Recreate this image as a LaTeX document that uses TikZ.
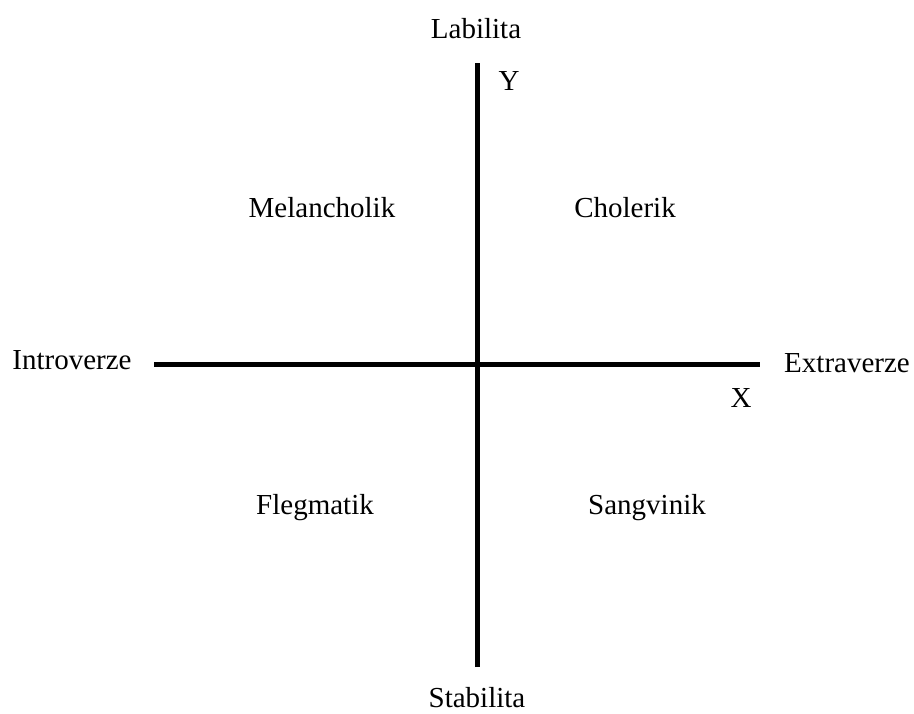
\documentclass[tikz,border=0pt]{standalone}
\usepackage{fontspec}
\setmainfont{Liberation Serif}
\begin{document}
\begin{tikzpicture}[x=1pt,y=-1pt,
  axis/.style={line width=5pt},
  lbl/.style={anchor=base,inner sep=0pt,font=\fontsize{29}{32}\selectfont}]
\useasboundingbox[fill=white] (0,0) rectangle (914,713);
\coordinate (ytop) at (477,63);
\coordinate (ybot) at (477,667);
\coordinate (xl) at (154,364);
\coordinate (xr) at (760,364);
\draw[axis] (ybot) -- (ytop);
\draw[axis] (xl) -- (xr);
\node[lbl] (lab) at (476,38) {Labilita};
\node[lbl] (Y) at (509,90) {Y};
\node[lbl] (mel) at (322,217) {Melancholik};
\node[lbl] (cho) at (625,217) {Cholerik};
\node[lbl] (intro) at (72,369) {Introverze};
\node[lbl] (extra) at (847,372) {Extraverze};
\node[lbl] (X) at (741,407) {X};
\node[lbl] (fle) at (315,514) {Flegmatik};
\node[lbl] (san) at (647,514) {Sangvinik};
\node[lbl] (sta) at (477,707) {Stabilita};
\end{tikzpicture}
\end{document}
